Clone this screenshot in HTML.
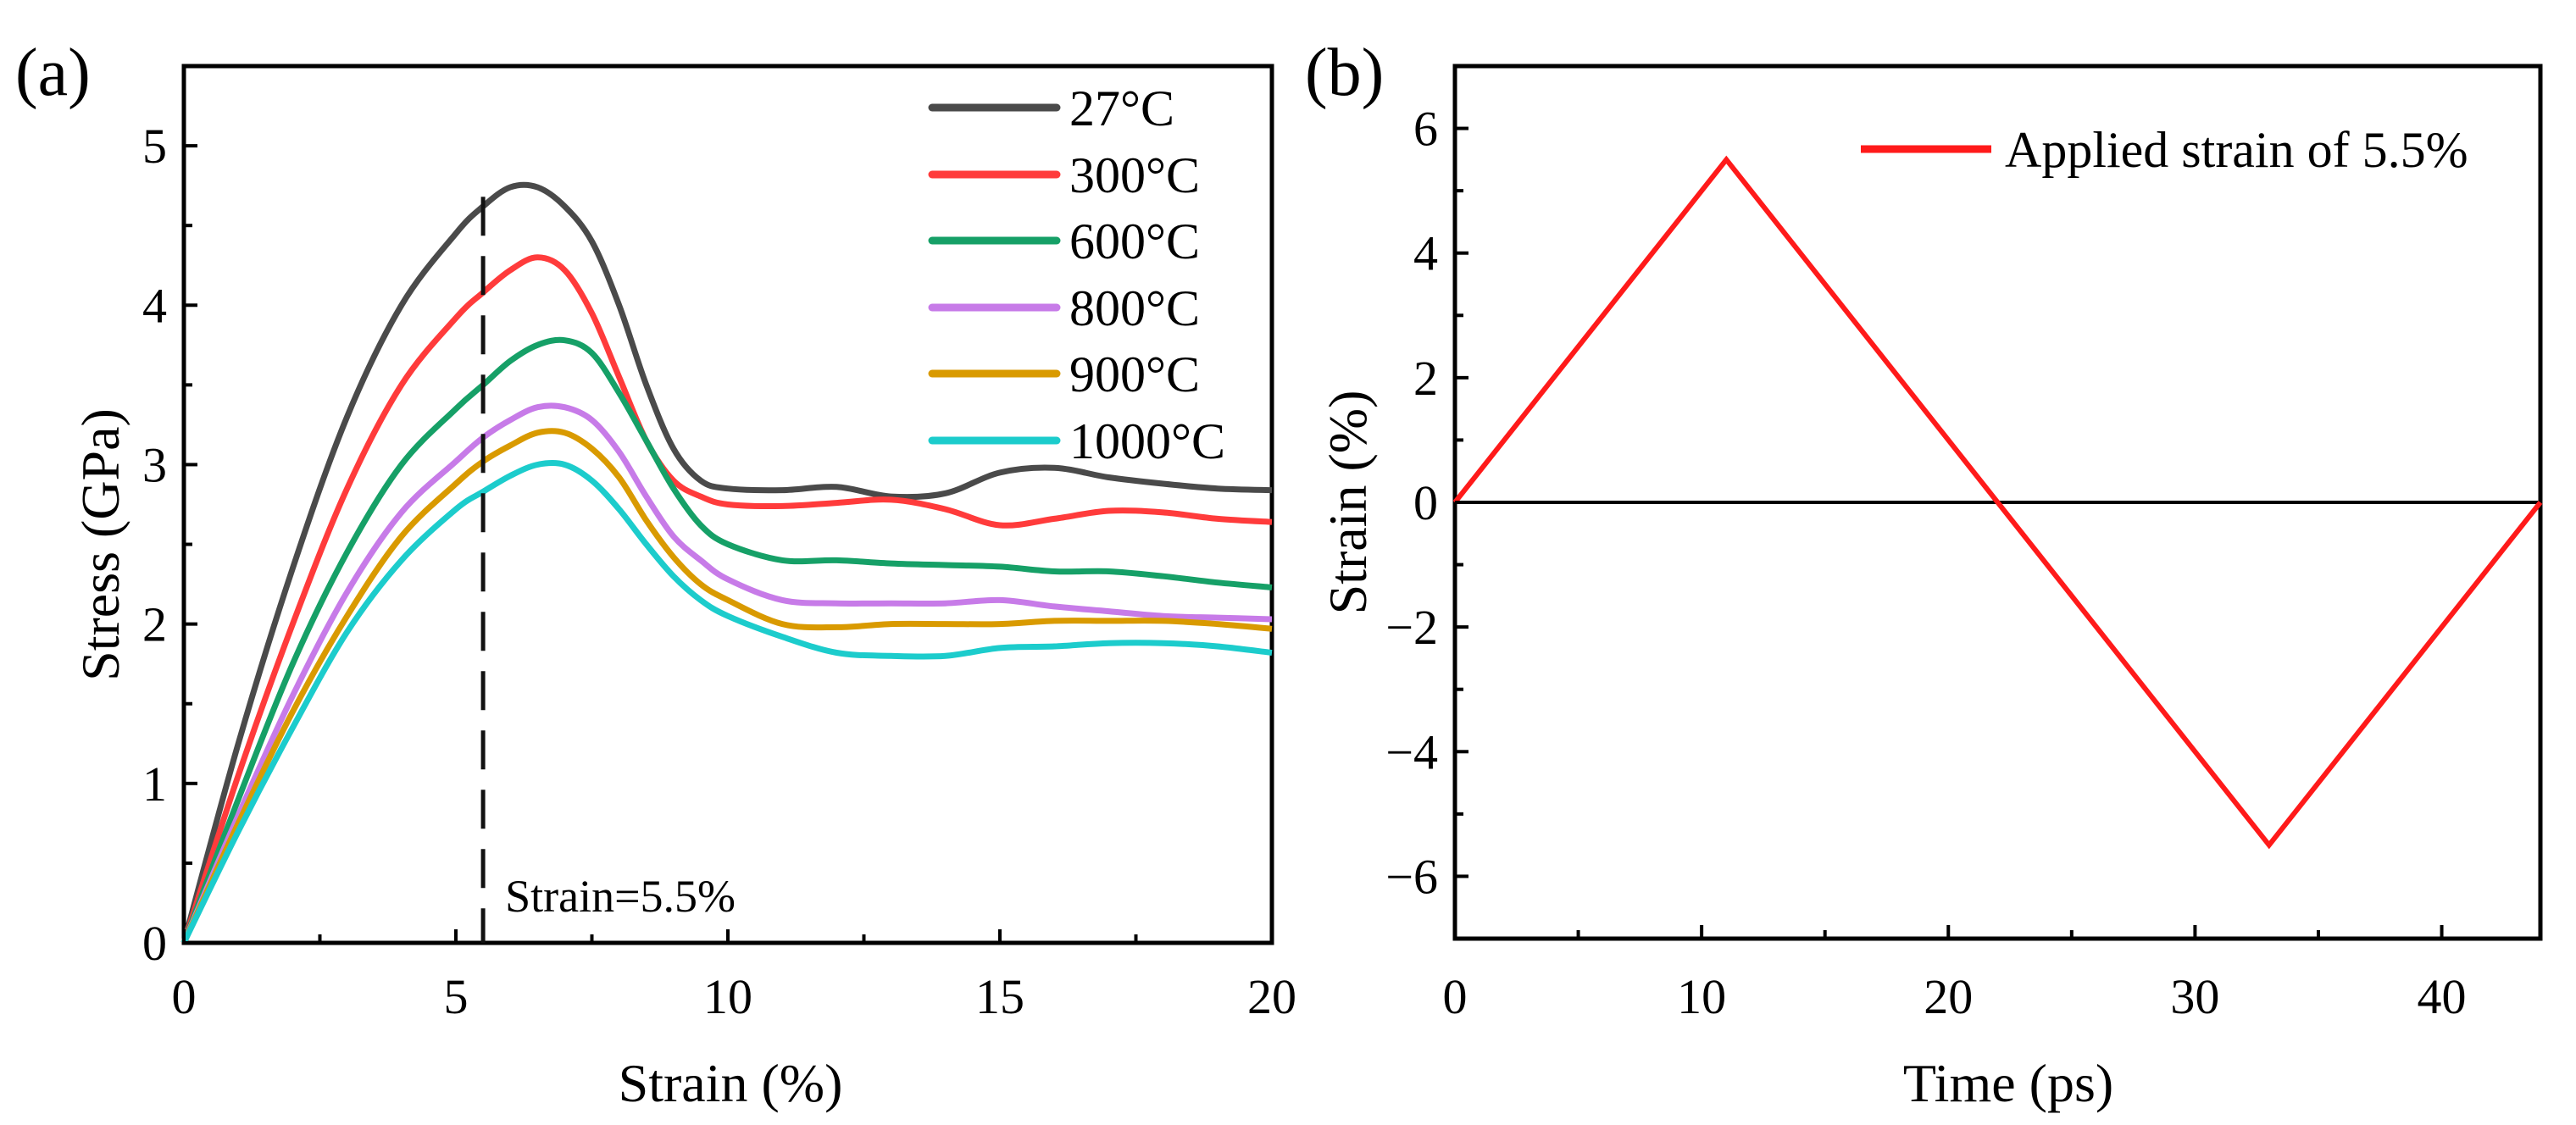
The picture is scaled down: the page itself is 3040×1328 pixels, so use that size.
<!DOCTYPE html>
<html><head><meta charset="utf-8"><style>
html,body{margin:0;padding:0;background:#fff;}
svg{display:block;font-family:"Liberation Serif",serif;}
</style></head><body>
<svg id="fig" width="3040" height="1328" viewBox="0 0 3040 1328" xmlns="http://www.w3.org/2000/svg">
<text x="18" y="112" font-size="80">(a)</text>
<text x="1540" y="112" font-size="80">(b)</text>
<g id="pa"></g>
<g id="pb"></g>
</svg>
<script>
const strainX = [0,1,2,3,4,5,5.5,6,6.5,7,7.5,8,8.5,9,9.5,10,11,12,13,14,15,16,17,18,19,20];
const s27 = [0,1.25,2.35,3.3,4.0,4.45,4.62,4.74,4.74,4.62,4.4,4.0,3.5,3.1,2.9,2.85,2.84,2.86,2.8,2.82,2.95,2.98,2.92,2.88,2.85,2.84];
const s300 = [0,1.05,2.0,2.85,3.5,3.92,4.08,4.22,4.3,4.22,3.95,3.55,3.15,2.9,2.8,2.75,2.74,2.76,2.78,2.72,2.62,2.66,2.71,2.7,2.66,2.64];
const s600 = [0,0.9,1.75,2.45,3.0,3.35,3.5,3.65,3.75,3.78,3.7,3.45,3.15,2.85,2.62,2.5,2.4,2.4,2.38,2.37,2.36,2.33,2.33,2.3,2.26,2.23];
const s800 = [0,0.8,1.55,2.2,2.7,3.02,3.17,3.28,3.36,3.36,3.28,3.08,2.8,2.55,2.4,2.28,2.15,2.13,2.13,2.13,2.15,2.11,2.08,2.05,2.04,2.03];
const s900 = [0,0.75,1.45,2.05,2.55,2.88,3.02,3.12,3.2,3.2,3.1,2.92,2.65,2.42,2.25,2.15,2.0,1.98,2.0,2.0,2.0,2.02,2.02,2.02,2.0,1.97];
const s1000 = [0,0.7,1.35,1.95,2.4,2.72,2.83,2.93,3.0,3.0,2.9,2.72,2.5,2.3,2.15,2.05,1.92,1.82,1.8,1.8,1.85,1.86,1.88,1.88,1.86,1.82];
const seriesLabels = ["27°C","300°C","600°C","800°C","900°C","1000°C"];
const seriesColors = ["#4a4a4a","#ff3b3b","#16a067","#c77be8","#d99a00","#1ccccc"];
const xTicksA = [0,5,10,15,20];
const yTicksA = [0,1,2,3,4,5];
const markerStrain = 5.5;
const timeX = [0,11,22,33,44];
const appliedStrain = [0,5.5,0,-5.5,0];
const xTicksB = [0,10,20,30,40];
const yTicksB = [-6,-4,-2,0,2,4,6];

const NS="http://www.w3.org/2000/svg";
function mk(parent,tag,attrs,text){const e=document.createElementNS(NS,tag);for(const k in attrs)e.setAttribute(k,attrs[k]);if(text!==undefined)e.textContent=text;parent.appendChild(e);return e;}
function smooth(pts){
  let d='M'+pts[0][0].toFixed(1)+','+pts[0][1].toFixed(1);
  for(let i=0;i<pts.length-1;i++){
    const p0=pts[Math.max(0,i-1)],p1=pts[i],p2=pts[i+1],p3=pts[Math.min(pts.length-1,i+2)];
    const c1=[p1[0]+(p2[0]-p0[0])/6,p1[1]+(p2[1]-p0[1])/6];
    const c2=[p2[0]-(p3[0]-p1[0])/6,p2[1]-(p3[1]-p1[1])/6];
    d+=' C'+c1[0].toFixed(1)+','+c1[1].toFixed(1)+' '+c2[0].toFixed(1)+','+c2[1].toFixed(1)+' '+p2[0].toFixed(1)+','+p2[1].toFixed(1);
  }
  return d;
}

const TF=58, TT=64;
// Panel A
const pa=document.getElementById('pa');
const AL=217,AR=1501,AT=78,AB=1113;
const xa=v=>AL+(v-0)/(20-0)*(AR-AL);
const ya=v=>AB-(v-0)/(5.5-0)*(AB-AT);
let e;
e=mk(pa,'rect',{x:AL,y:AT,width:AR-AL,height:AB-AT,fill:'none',stroke:'#000','stroke-width':5});


const seriesA=[s27,s300,s600,s800,s900,s1000];
seriesA.forEach((s,i)=>{
  const d=smooth(s.map((v,j)=>[xa(strainX[j]),ya(v)]));
  e=mk(pa,'path',{d:d,fill:'none',stroke:seriesColors[i],'stroke-width':7,'stroke-linejoin':'round'});
  
  
});
e=mk(pa,'line',{x1:xa(markerStrain),x2:xa(markerStrain),y1:ya(4.68),y2:AB,stroke:'#111','stroke-width':5,'stroke-dasharray':'46,24'});


e=mk(pa,'text',{x:xa(markerStrain)+26,y:1076,'font-size':54},'Strain=5.5%');


for(let v=0;v<=20;v+=2.5){const maj=v%5===0;
  e=mk(pa,'line',{x1:xa(v),x2:xa(v),y1:AB,y2:AB-(maj?16:10),stroke:'#000','stroke-width':4});
  
  }
xTicksA.forEach(v=>{e=mk(pa,'text',{x:xa(v),y:1196,'font-size':TF,'text-anchor':'middle'},String(v));
  
  });
for(let v=0;v<=5;v+=0.5){const maj=Math.abs(v-Math.round(v))<1e-6;
  e=mk(pa,'line',{x1:AL,x2:AL+(maj?16:10),y1:ya(v),y2:ya(v),stroke:'#000','stroke-width':4});
  
  }
yTicksA.forEach(v=>{e=mk(pa,'text',{x:AL-20,y:ya(v)+20,'font-size':TF,'text-anchor':'end'},String(v));
  
  });
e=mk(pa,'text',{x:862,y:1300,'font-size':TT,'text-anchor':'middle'},'Strain (%)');


e=mk(pa,'text',{x:0,y:0,'font-size':TT,'text-anchor':'middle',transform:'translate(140,643) rotate(-90)'},'Stress (GPa)');


const legRows=[127,206,284,363,441,520];
seriesLabels.forEach((lab,i)=>{
  e=mk(pa,'line',{x1:1100,x2:1247,y1:legRows[i],y2:legRows[i],stroke:seriesColors[i],'stroke-width':9,'stroke-linecap':'round'});
  
  
  e=mk(pa,'text',{x:1262,y:legRows[i]+21,'font-size':60},lab);
  
  
});

// Panel B
const pb=document.getElementById('pb');
const BL=1717,BR=2998,BT=78,BB=1108;
const xb=v=>BL+(v-0)/(44-0)*(BR-BL);
const yb=v=>BB-(v+7)/14*(BB-BT);
e=mk(pb,'rect',{x:BL,y:BT,width:BR-BL,height:BB-BT,fill:'none',stroke:'#000','stroke-width':5});


e=mk(pb,'line',{x1:BL,x2:BR,y1:yb(0),y2:yb(0),stroke:'#000','stroke-width':4});


e=mk(pb,'path',{d:appliedStrain.map((v,j)=>(j?'L':'M')+xb(timeX[j]).toFixed(1)+','+yb(v).toFixed(1)).join(' '),fill:'none',stroke:'#ff1a1a','stroke-width':6});


for(let v=0;v<=40;v+=5){const maj=v%10===0;
  e=mk(pb,'line',{x1:xb(v),x2:xb(v),y1:BB,y2:BB-(maj?16:10),stroke:'#000','stroke-width':4});
  
  }
xTicksB.forEach(v=>{e=mk(pb,'text',{x:xb(v),y:1196,'font-size':TF,'text-anchor':'middle'},String(v));
  
  });
for(let v=-7;v<=7;v+=1){const maj=v%2===0;
  e=mk(pb,'line',{x1:BL,x2:BL+(maj?16:10),y1:yb(v),y2:yb(v),stroke:'#000','stroke-width':4});
  
  }
yTicksB.forEach(v=>{e=mk(pb,'text',{x:BL-20,y:yb(v)+20,'font-size':TF,'text-anchor':'end'},(v<0?'\u2212':'')+Math.abs(v));
  
  });
e=mk(pb,'text',{x:2370,y:1300,'font-size':TT,'text-anchor':'middle'},'Time (ps)');


e=mk(pb,'text',{x:0,y:0,'font-size':TT,'text-anchor':'middle',transform:'translate(1612,593) rotate(-90)'},'Strain (%)');


e=mk(pb,'line',{x1:2196,x2:2350,y1:176,y2:176,stroke:'#ff1a1a','stroke-width':9});


e=mk(pb,'text',{x:2366,y:197,'font-size':60},'Applied strain of 5.5%');


</script>
</body></html>
